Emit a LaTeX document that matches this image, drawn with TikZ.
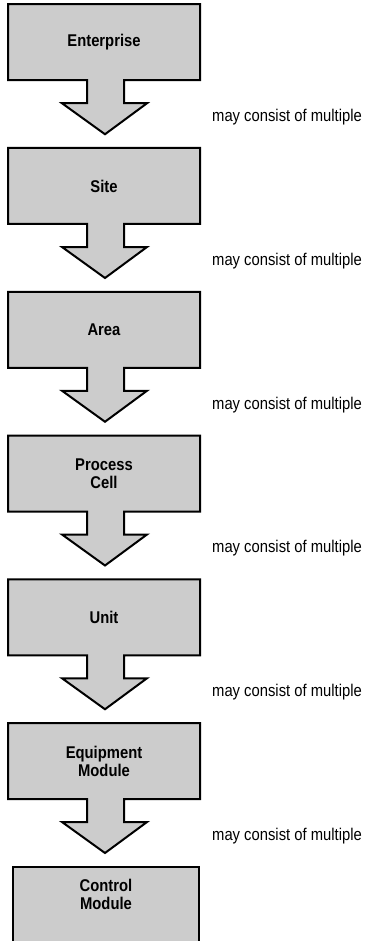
\documentclass[tikz,border=0pt]{standalone}
\usepackage{fontspec}
\setmainfont{Liberation Sans}[FakeStretch=0.87]
\usetikzlibrary{positioning, backgrounds}
\definecolor{boxgray}{RGB}{204,204,204}

\begin{document}
\begin{tikzpicture}[x=1pt, y=-1pt,
    level/.style={minimum width=192pt, minimum height=76pt, inner sep=0pt, outer sep=0pt,
      align=center, font=\fontsize{17}{18}\selectfont\bfseries},
    outline/.style={draw=black, fill=boxgray, line width=2pt, line join=miter},
    note/.style={anchor=west, inner sep=0pt, font=\fontsize{17}{18}\selectfont}]
  \useasboundingbox (0,0) rectangle (365,941);

  % hierarchy levels, top to bottom
  \node[level] (ent) at (104,42.25) {Enterprise};
  \node[level, below=67.75pt of ent] (site) {Site};
  \node[level, below=67.75pt of site] (area) {Area};
  \node[level, below=67.75pt of area] (cell) {Process\\Cell};
  \node[level, below=67.75pt of cell] (unit) {Unit};
  \node[level, below=67.75pt of unit] (em) {Equipment\\Module};
  \node[level, minimum width=186pt, minimum height=56pt, below=67.75pt of em, xshift=2pt] (cm) {Control\\Module};

  % text beside each arrow
  \foreach \n in {ent,site,area,cell,unit,em}
    \node[note] (\n-note) at ([shift={(12,37)}]\n.south east) {may consist of multiple};

  % box and block arrow as one outline
  \begin{scope}[on background layer]
    \foreach \n in {ent,site,area,cell,unit,em}
      \draw[outline] (\n.north west) -| (\n.south east) -- ++(-76,0) -- ++(0,23) -- ++(23,0)
        -- ++(-42,31) -- ++(-43,-31) -- ++(25,0) -- ++(0,-23) -- (\n.south west) -- cycle;
    \draw[outline] ([yshift=-30pt]cm.south west) |- (cm.north east) -- ([yshift=-30pt]cm.south east);
  \end{scope}
\end{tikzpicture}
\end{document}
